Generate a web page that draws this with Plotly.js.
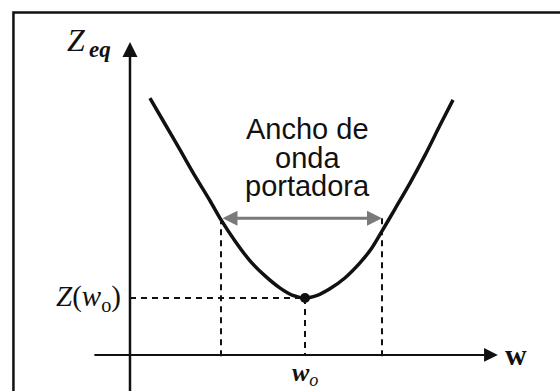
<!DOCTYPE html>
<html>
<head>
<meta charset="utf-8">
<script src="https://cdn.plot.ly/plotly-3.0.1.min.js"></script>
<style>
  html, body { margin: 0; padding: 0; background: #fff; }
  #chart { width: 560px; height: 391px; }
</style>
</head>
<body>
<div id="chart"></div>
<script>
// Impedance curve Z_eq(w): a U-shaped resonance curve with its minimum at w_o
const freq = [0.57, 1.0, 1.43, 1.86, 2.29, 2.57, 3.0, 3.43, 3.86, 4.29, 4.63, 5.0,
              5.37, 5.71, 6.14, 6.57, 6.91, 7.2, 7.57, 8.0, 8.43, 8.86, 9.23];
const zeq  = [7.34, 6.6, 5.86, 5.11, 4.4, 3.91, 3.26, 2.69, 2.26, 1.91, 1.71, 1.63,
              1.71, 1.89, 2.2, 2.63, 3.06, 3.54, 4.17, 4.91, 5.71, 6.57, 7.29];

// Resonance point and carrier band edges
const w0 = 5.0;
const zMin = 1.63;
const bandEdges = [2.6, 7.2];
const bandLevel = 3.91;

// Caption lines above the band arrow
const captionLines = ['Ancho de', 'onda', 'portadora'];
const captionLevels = [6.45, 5.63, 4.83];

// Axis extents
const axisFloor = -1.1;
const wAxisStart = -1.06, wAxisEnd = 10.51;
const zAxisTop = 8.94;

const ink = '#111111';
const serif = 'Liberation Serif, DejaVu Serif, serif';
const sans = 'Liberation Sans, Arial, sans-serif';

const dashStyle = {color: ink, width: 2, dash: '6px,5px'};

const traces = [
  // vertical dashed guides at the band edges
  {x: [bandEdges[0], bandEdges[0]], y: [bandLevel, -0.15], mode: 'lines', line: dashStyle, hoverinfo: 'skip'},
  {x: [bandEdges[1], bandEdges[1]], y: [bandLevel, -0.15], mode: 'lines', line: dashStyle, hoverinfo: 'skip'},
  // dashed guides to the minimum
  {x: [w0, w0], y: [zMin, 0], mode: 'lines', line: dashStyle, hoverinfo: 'skip'},
  {x: [0, w0], y: [zMin, zMin], mode: 'lines', line: dashStyle, hoverinfo: 'skip'},
  // the curve
  {x: freq, y: zeq, mode: 'lines', line: {color: ink, width: 3.5, shape: 'spline', smoothing: 0.8}, hoverinfo: 'skip'},
  // minimum point
  {x: [w0], y: [zMin], mode: 'markers', marker: {color: ink, size: 10}, hoverinfo: 'skip'}
];

const annotations = [
  // vertical axis with arrow
  {x: 0, y: zAxisTop, ax: 0, ay: axisFloor, xref: 'x', yref: 'y', axref: 'x', ayref: 'y',
   showarrow: true, arrowhead: 2, arrowsize: 1.2, arrowwidth: 2.5, arrowcolor: ink, text: '', standoff: 0},
  // horizontal axis with arrow
  {x: wAxisEnd, y: 0, ax: wAxisStart, ay: 0, xref: 'x', yref: 'y', axref: 'x', ayref: 'y',
   showarrow: true, arrowhead: 2, arrowsize: 1.25, arrowwidth: 2.2, arrowcolor: ink, text: '', standoff: 0},
  // carrier bandwidth double arrow
  {x: bandEdges[1], y: bandLevel, ax: bandEdges[0], ay: bandLevel, xref: 'x', yref: 'y', axref: 'x', ayref: 'y',
   showarrow: true, arrowside: 'end+start', arrowhead: 2, arrowsize: 1.0, arrowwidth: 3,
   arrowcolor: '#7a7a7a', text: '', standoff: 0, startstandoff: 0},
  // axis and point labels
  {x: -1.2, y: 9.0, xref: 'x', yref: 'y', showarrow: false, xanchor: 'right', yanchor: 'middle',
   text: '<i>Z</i>', font: {family: serif, size: 32, color: ink}},
  {x: -1.22, y: 8.72, xref: 'x', yref: 'y', showarrow: false, xanchor: 'left', yanchor: 'middle',
   text: '<i><b>eq</b></i>', font: {family: serif, size: 23, color: ink}},
  {x: -0.2, y: zMin, xref: 'x', yref: 'y', showarrow: false, xanchor: 'right', yanchor: 'middle',
   text: '<i>Z</i>(<i>w</i><sub>o</sub>)', font: {family: serif, size: 29, color: ink}},
  {x: w0, y: -0.02, xref: 'x', yref: 'y', showarrow: false, xanchor: 'center', yanchor: 'top',
   text: '<i><b>w</b></i><sub><i>o</i></sub>', font: {family: serif, size: 26, color: ink}},
  {x: wAxisEnd + 0.15, y: 0, xref: 'x', yref: 'y', showarrow: false, xanchor: 'left', yanchor: 'middle',
   text: '<b>w</b>', font: {family: serif, size: 30, color: ink}}
].concat(captionLines.map((t, i) => ({
  x: w0 + 0.06, y: captionLevels[i], xref: 'x', yref: 'y', showarrow: false,
  xanchor: 'center', yanchor: 'middle', text: t,
  font: {family: sans, size: 29, color: ink}
})));

const layout = {
  width: 560, height: 391,
  margin: {l: 0, r: 0, t: 0, b: 0},
  paper_bgcolor: '#ffffff', plot_bgcolor: '#ffffff',
  showlegend: false,
  xaxis: {range: [-3.714, 12.286], visible: false, fixedrange: true},
  yaxis: {range: [-1.029, 10.143], visible: false, fixedrange: true},
  annotations: annotations,
  shapes: [
    // frame around the figure
    {type: 'rect', xref: 'paper', yref: 'paper', x0: 0.024, x1: 1.05, y0: -0.05, y1: 0.968,
     line: {color: ink, width: 2.5}, fillcolor: 'rgba(0,0,0,0)'}
  ]
};

Plotly.newPlot('chart', traces, layout, {staticPlot: true, displayModeBar: false});
</script>
</body>
</html>
